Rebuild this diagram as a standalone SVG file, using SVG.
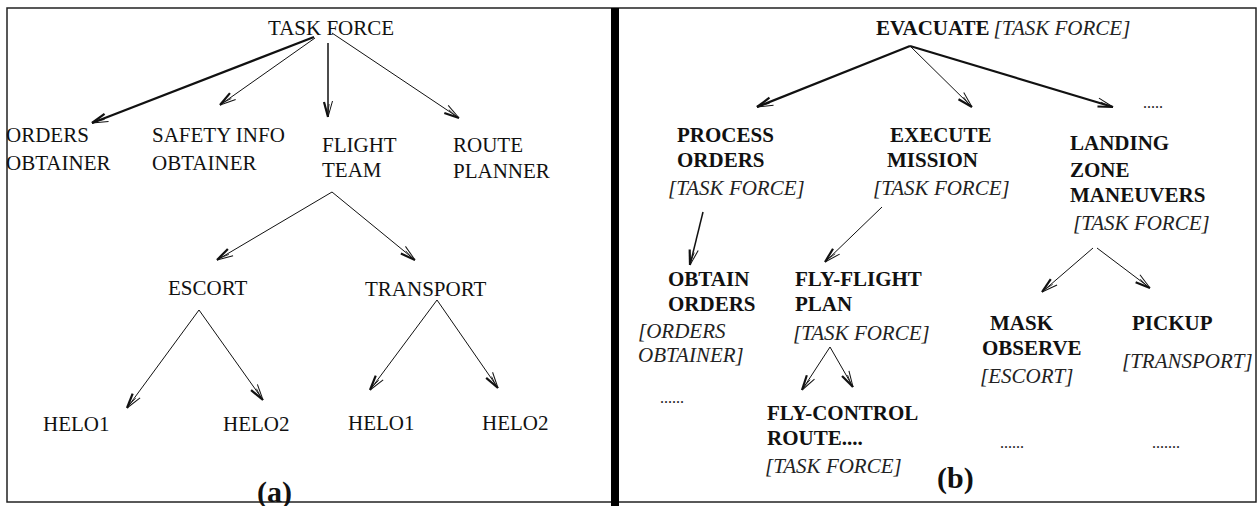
<svg xmlns="http://www.w3.org/2000/svg" width="1260" height="506" viewBox="0 0 1260 506">
  <style>
    .reg { font-family: "Liberation Serif", "Times New Roman", serif; font-size: 21px; fill: #111; }
    .bold { font-family: "Liberation Serif", "Times New Roman", serif; font-size: 21px; font-weight: bold; fill: #111; }
    .ital { font-family: "Liberation Serif", "Times New Roman", serif; font-size: 21px; font-style: italic; fill: #222; }
    .cap { font-family: "Liberation Serif", "Times New Roman", serif; font-size: 30px; font-weight: bold; fill: #111; }
    .dots { font-family: "Liberation Serif", "Times New Roman", serif; font-size: 16px; fill: #222; }
    .edge { fill: none; stroke: #111; stroke-width: 1; }
    .edge.heavy { stroke-width: 2.2; }
    .edge.mid { stroke-width: 1.5; }
  </style>
  <defs>
    <!-- open feathered arrowhead: one heavy barb, one light barb -->
    <marker id="head" markerUnits="userSpaceOnUse" orient="auto" refX="0" refY="0"
            markerWidth="20" markerHeight="20" overflow="visible">
      <path d="M0,0 L-16,-4.5" fill="none" stroke="#111" stroke-width="1"/>
      <path d="M0,0 L-15,4" fill="none" stroke="#111" stroke-width="2.2"/>
      <path d="M-3,0.3 L-13,-1.2" fill="none" stroke="#111" stroke-width="0.8"/>
    </marker>
  </defs>

  <!-- frame and divider -->
  <rect x="7" y="8" width="1249" height="494" fill="#fff" stroke="#222" stroke-width="1.5"/>
  <rect x="611" y="8" width="8" height="498" fill="#000"/>

  <g id="connectors">
    <!-- (a) organisation tree -->
    <line class="edge heavy" x1="314" y1="37" x2="92" y2="123" marker-end="url(#head)"/>
    <line class="edge" x1="315" y1="38" x2="220" y2="105" marker-end="url(#head)"/>
    <line class="edge mid" x1="328" y1="43" x2="328" y2="117" marker-end="url(#head)"/>
    <line class="edge" x1="332" y1="33" x2="459" y2="118" marker-end="url(#head)"/>
    <line class="edge" x1="332" y1="192" x2="217" y2="260" marker-end="url(#head)"/>
    <line class="edge" x1="332" y1="192" x2="415" y2="260" marker-end="url(#head)"/>
    <line class="edge" x1="199" y1="310" x2="127" y2="408" marker-end="url(#head)"/>
    <line class="edge" x1="199" y1="310" x2="263" y2="400" marker-end="url(#head)"/>
    <line class="edge" x1="437" y1="300" x2="370" y2="390" marker-end="url(#head)"/>
    <line class="edge" x1="437" y1="300" x2="498" y2="388" marker-end="url(#head)"/>
    <!-- (b) task tree -->
    <line class="edge heavy" x1="910" y1="46" x2="757" y2="107" marker-end="url(#head)"/>
    <line class="edge" x1="910" y1="46" x2="972" y2="107" marker-end="url(#head)"/>
    <line class="edge heavy" x1="910" y1="46" x2="1113" y2="107" marker-end="url(#head)"/>
    <line class="edge mid" x1="703" y1="212" x2="690" y2="265" marker-end="url(#head)"/>
    <line class="edge" x1="882" y1="207" x2="825" y2="262" marker-end="url(#head)"/>
    <line class="edge" x1="830" y1="347" x2="802" y2="390" marker-end="url(#head)"/>
    <line class="edge" x1="830" y1="347" x2="853" y2="387" marker-end="url(#head)"/>
    <line class="edge" x1="1093" y1="248" x2="1042" y2="292" marker-end="url(#head)"/>
    <line class="edge" x1="1097" y1="248" x2="1150" y2="288" marker-end="url(#head)"/>
  </g>

  <!-- (a) nodes -->
  <g id="task-force"><text class="reg" x="268" y="35">TASK FORCE</text></g>
  <g id="orders-obtainer">
    <text class="reg" x="6" y="142">ORDERS</text>
    <text class="reg" x="6" y="170">OBTAINER</text>
  </g>
  <g id="safety-info-obtainer">
    <text class="reg" x="152" y="142">SAFETY INFO</text>
    <text class="reg" x="152" y="170">OBTAINER</text>
  </g>
  <g id="flight-team">
    <text class="reg" x="322" y="152">FLIGHT</text>
    <text class="reg" x="322" y="177">TEAM</text>
  </g>
  <g id="route-planner">
    <text class="reg" x="453" y="152">ROUTE</text>
    <text class="reg" x="453" y="178">PLANNER</text>
  </g>
  <g id="escort"><text class="reg" x="168" y="295">ESCORT</text></g>
  <g id="transport"><text class="reg" x="365" y="296">TRANSPORT</text></g>
  <g id="escort-helo1"><text class="reg" x="43" y="431">HELO1</text></g>
  <g id="escort-helo2"><text class="reg" x="223" y="431">HELO2</text></g>
  <g id="transport-helo1"><text class="reg" x="348" y="430">HELO1</text></g>
  <g id="transport-helo2"><text class="reg" x="482" y="430">HELO2</text></g>
  <g id="caption-a"><text class="cap" x="257" y="502">(a)</text></g>

  <!-- (b) nodes -->
  <g id="evacuate">
    <text x="876" y="35"><tspan class="bold">EVACUATE</tspan><tspan class="ital" dx="4">[TASK FORCE]</tspan></text>
  </g>
  <g id="evacuate-more"><text class="dots" x="1143" y="108">.....</text></g>
  <g id="process-orders">
    <text class="bold" x="677" y="142">PROCESS</text>
    <text class="bold" x="677" y="167">ORDERS</text>
    <text class="ital" x="668" y="195">[TASK FORCE]</text>
  </g>
  <g id="execute-mission">
    <text class="bold" x="890" y="142">EXECUTE</text>
    <text class="bold" x="887" y="167">MISSION</text>
    <text class="ital" x="873" y="195">[TASK FORCE]</text>
  </g>
  <g id="landing-zone-maneuvers">
    <text class="bold" x="1070" y="150">LANDING</text>
    <text class="bold" x="1070" y="177">ZONE</text>
    <text class="bold" x="1070" y="202">MANEUVERS</text>
    <text class="ital" x="1073" y="230">[TASK FORCE]</text>
  </g>
  <g id="obtain-orders">
    <text class="bold" x="668" y="286">OBTAIN</text>
    <text class="bold" x="668" y="311">ORDERS</text>
    <text class="ital" x="638" y="338">[ORDERS</text>
    <text class="ital" x="638" y="362">OBTAINER]</text>
    <text class="dots" x="660" y="403">......</text>
  </g>
  <g id="fly-flight-plan">
    <text class="bold" x="795" y="286">FLY-FLIGHT</text>
    <text class="bold" x="795" y="311">PLAN</text>
    <text class="ital" x="793" y="340">[TASK FORCE]</text>
  </g>
  <g id="fly-control-route">
    <text class="bold" x="767" y="420">FLY-CONTROL</text>
    <text class="bold" x="767" y="445">ROUTE....</text>
    <text class="ital" x="765" y="473">[TASK FORCE]</text>
  </g>
  <g id="mask-observe">
    <text class="bold" x="990" y="330">MASK</text>
    <text class="bold" x="982" y="355">OBSERVE</text>
    <text class="ital" x="980" y="383">[ESCORT]</text>
    <text class="dots" x="1000" y="448">......</text>
  </g>
  <g id="pickup">
    <text class="bold" x="1132" y="330">PICKUP</text>
    <text class="ital" x="1122" y="368">[TRANSPORT]</text>
    <text class="dots" x="1152" y="448">.......</text>
  </g>
  <g id="caption-b"><text class="cap" x="937" y="488">(b)</text></g>
</svg>
